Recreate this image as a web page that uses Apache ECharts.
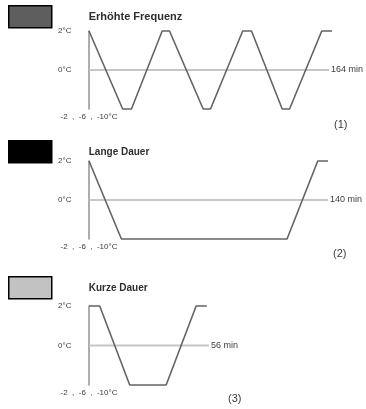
<!DOCTYPE html>
<html>
<head>
<meta charset="utf-8">
<script src="https://cdn.jsdelivr.net/npm/echarts@6/dist/echarts.min.js"></script>
<style>
  html, body { margin: 0; padding: 0; background: #fff; }
  #chart { width: 366px; height: 409px; }
</style>
</head>
<body>
<div id="chart"></div>
<script>
// Temperature cycle programmes (schematic): time in minutes, temperature in °C
const titles = ['Erhöhte Frequenz', 'Lange Dauer', 'Kurze Dauer'];
const panelTags = ['(1)', '(2)', '(3)'];
const durations = [164, 140, 56];
const yTickLabels = ['2°C', '0°C', '-2  ,  -6  ,  -10°C'];

const freqTime = [0, 23, 29, 50, 55, 78, 83, 105, 111, 132, 137, 159, 166];
const freqTemp = [2, -2, -2, 2, 2, -2, -2, 2, 2, -2, -2, 2, 2];

const longTime = [0, 19, 116, 134, 140];
const longTemp = [2, -2, -2, 2, 2];

const shortTime = [0, 5, 19, 36, 50, 55];
const shortTemp = [2, 2, -2, -2, 2, 2];

const programmes = [
  { time: freqTime, temp: freqTemp },
  { time: longTime, temp: longTemp },
  { time: shortTime, temp: shortTemp }
];

// layout and look of each panel
const layout = [
  { top: 31, height: 78, width: 243, xMax: 166, legendTop: 5, titleSize: 11, textPad: [4, 0, 0, 32], swatch: '#5e5e5e', tagLeft: 334, tagTop: 119 },
  { top: 161, height: 78, width: 239, xMax: 140, legendTop: 140, titleSize: 10, textPad: [0, 0, 6, 32], swatch: '#000000', tagLeft: 333, tagTop: 248 },
  { top: 306, height: 79, width: 120, xMax: 56, legendTop: 276, titleSize: 10, textPad: [12, 0, 0, 32], swatch: '#c2c2c2', tagLeft: 228, tagTop: 393 }
];

const FONT = 'Liberation Sans, Arial, Helvetica, sans-serif';
const LINE_COLOR = '#646464';
const AXIS_COLOR = '#999999';
const ZERO_COLOR = '#c6c6c6';
const TEXT_COLOR = '#3c3c3c';

const grids = [], xAxes = [], yAxes = [], series = [], legends = [], tags = [];

programmes.forEach((p, i) => {
  const L = layout[i];
  grids.push({ left: 89, top: L.top, width: L.width, height: L.height, outerBoundsMode: 'none' });

  xAxes.push({
    type: 'value', gridIndex: i, min: 0, max: L.xMax, interval: L.xMax,
    axisLine: { show: false }, axisTick: { show: false }, splitLine: { show: false },
    axisLabel: {
      margin: 4, fontSize: 8, color: TEXT_COLOR, fontFamily: FONT,
      formatter: v => (v === 0 ? yTickLabels[2] : '')
    }
  });

  yAxes.push({
    type: 'value', gridIndex: i, min: -2, max: 2, interval: 2,
    axisLine: { show: true, lineStyle: { color: AXIS_COLOR, width: 1.6 } },
    axisTick: { show: false }, splitLine: { show: false },
    axisLabel: {
      align: 'left', margin: 31, fontSize: 8, color: TEXT_COLOR, fontFamily: FONT,
      formatter: v => (v === 2 ? yTickLabels[0] : v === 0 ? yTickLabels[1] : '')
    }
  });

  // 0 °C reference line with its duration at the end
  series.push({
    name: 'zero' + i, type: 'line', xAxisIndex: i, yAxisIndex: i,
    data: [[0, 0], [durations[i], 0]],
    symbol: 'none', silent: true, z: 1, clip: false,
    lineStyle: { color: ZERO_COLOR, width: 2 },
    endLabel: {
      show: true, formatter: durations[i] + ' min', distance: 2,
      fontSize: 9, color: TEXT_COLOR, fontFamily: FONT
    }
  });

  // temperature profile
  series.push({
    name: titles[i], type: 'line', xAxisIndex: i, yAxisIndex: i,
    data: p.time.map((t, k) => [t, p.temp[k]]),
    symbol: 'none', z: 2, clip: false, color: LINE_COLOR,
    lineStyle: { color: LINE_COLOR, width: 1.6 }
  });

  legends.push({
    left: 8, top: L.legendTop, padding: 0, orient: 'horizontal',
    icon: 'rect', itemWidth: 43, itemHeight: 22, selectedMode: false,
    data: [{
      name: titles[i],
      itemStyle: { color: L.swatch, borderColor: '#000', borderWidth: 1.5 }
    }],
    textStyle: {
      fontSize: L.titleSize, fontWeight: 'bold', color: '#2e2e2e', fontFamily: FONT,
      padding: L.textPad
    }
  });

  tags.push({
    text: panelTags[i], left: L.tagLeft, top: L.tagTop, padding: 0,
    textStyle: { fontSize: 11, fontWeight: 'normal', color: TEXT_COLOR, fontFamily: FONT }
  });
});

const chart = echarts.init(document.getElementById('chart'), null, { renderer: 'canvas' });
chart.setOption({
  backgroundColor: '#ffffff',
  animation: false,
  textStyle: { fontFamily: FONT },
  title: tags,
  legend: legends,
  grid: grids,
  xAxis: xAxes,
  yAxis: yAxes,
  series: series
});
</script>
</body>
</html>
